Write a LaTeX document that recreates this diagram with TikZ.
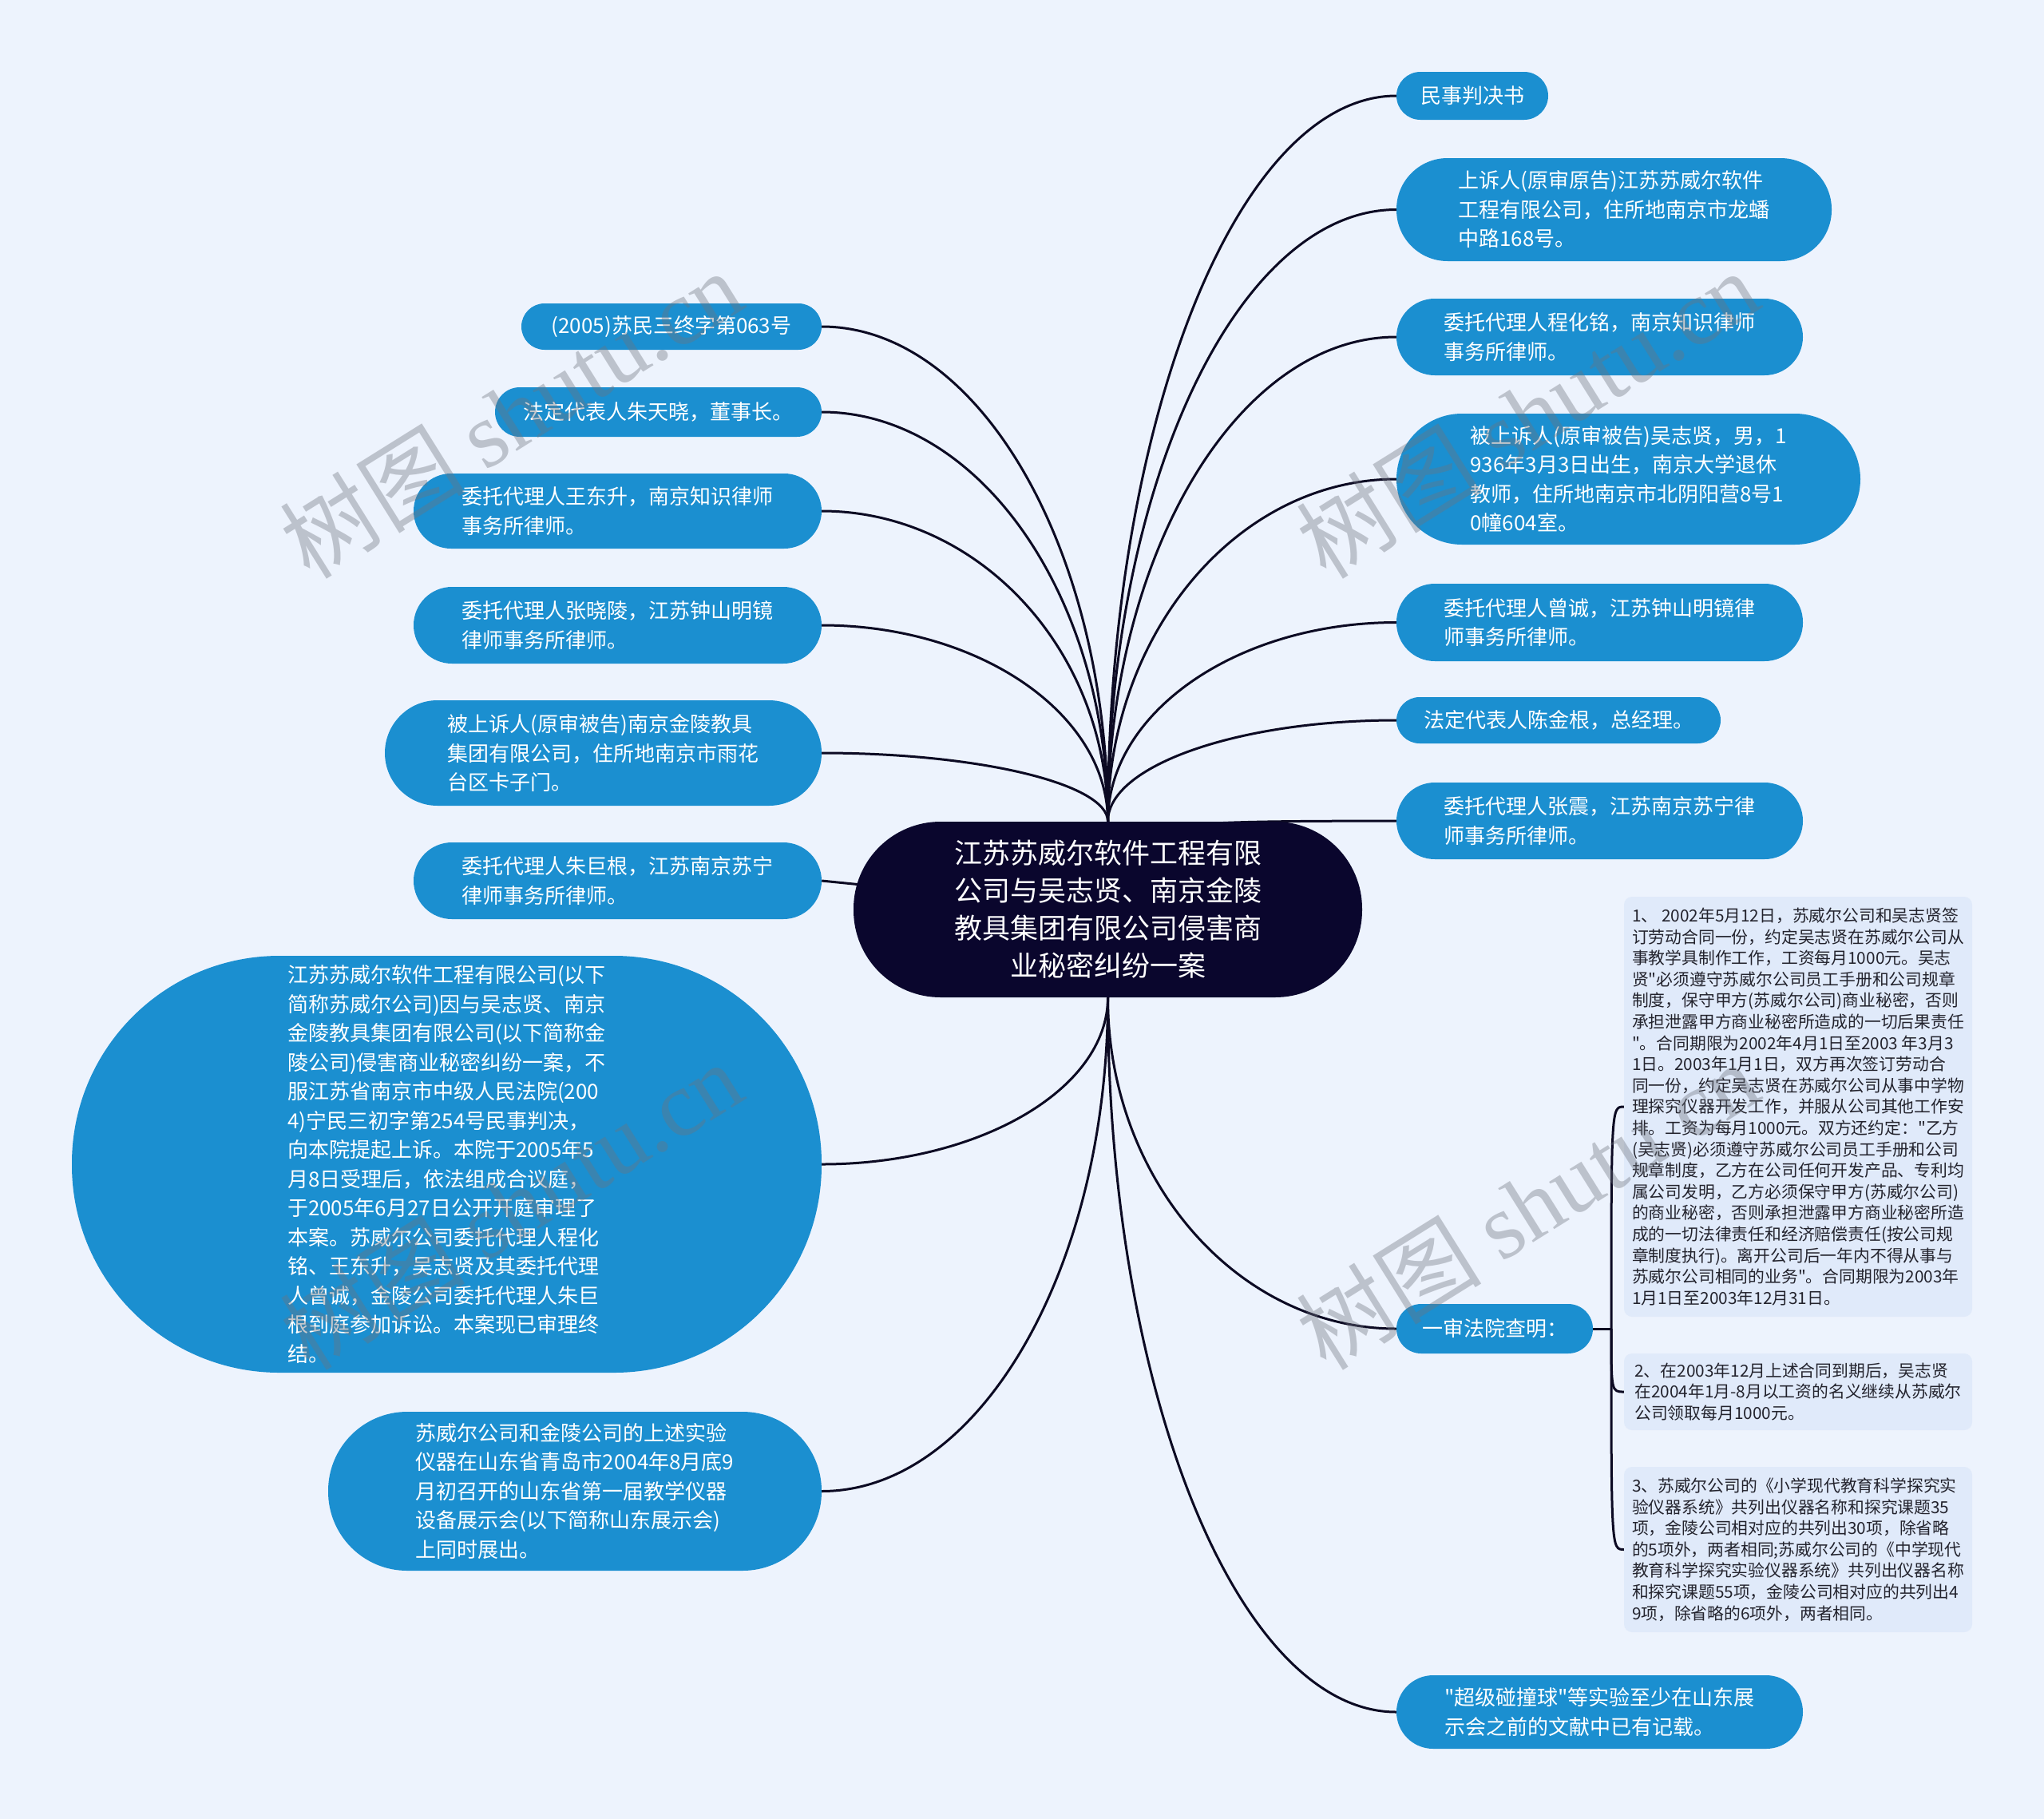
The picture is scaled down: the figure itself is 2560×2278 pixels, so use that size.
\documentclass[tikz,border=0pt]{standalone}
\usepackage{fontspec}
\newfontfamily\cjk{Noto Sans CJK SC}
\newfontfamily\wmlatin{Liberation Serif}
\usetikzlibrary{calc}
\definecolor{bgcol}{RGB}{237,243,253}
\definecolor{nodeblue}{RGB}{27,143,208}
\definecolor{centercol}{RGB}{10,6,45}
\definecolor{linecol}{RGB}{12,10,35}
\definecolor{detailcol}{RGB}{224,234,250}
\definecolor{detailtext}{RGB}{35,35,45}
\definecolor{wmcol}{RGB}{110,115,125}
\pgfdeclarelayer{back}\pgfdeclarelayer{lines}\pgfdeclarelayer{front}
\pgfsetlayers{back,lines,main,front}
\newcommand\mylink[2]{\draw[conn] (#1) .. controls ($(#1)!0.55!(#1 |- #2)$) and ($(#2)!0.55!(#1 |- #2)$) .. (#2);}
\begin{document}
\begin{tikzpicture}[x=1pt,y=-1pt,
 pill/.style={fill=nodeblue, text=white, font=\cjk\fontsize{26}{36.5}\selectfont, align=left, inner sep=0pt},
 hub/.style={fill=centercol, text=white, font=\cjk\fontsize{35}{47}\selectfont, align=center, inner sep=0pt, minimum width=637pt, minimum height=220pt, rounded corners=109pt},
 detail/.style={fill=detailcol, text=detailtext, font=\cjk\fontsize{20.8}{26.6}\selectfont, align=left, inner sep=0pt, minimum width=436pt, rounded corners=10pt},
 conn/.style={draw=linecol, line width=3pt},
 watermark/.style={text=wmcol, text opacity=0.38, rotate=32, font=\cjk\fontsize{116}{116}\selectfont, inner sep=0pt}
]
\useasboundingbox (0,0) rectangle (2560,2278);
\begin{pgfonlayer}{back}
\fill[bgcol] (0,0) rectangle (2560,2278);
\end{pgfonlayer}

% centre
\node[hub] (c) at (1387.5,1139) {江苏苏威尔软件工程有限\\公司与吴志贤、南京金陵\\教具集团有限公司侵害商\\业秘密纠纷一案};

% right side
\node[pill, minimum width=190pt, minimum height=60pt, rounded corners=30pt] (r1) at (1844,120) {民事判决书};
\node[pill, minimum width=545pt, minimum height=129pt, rounded corners=64pt] (r2) at (2021.5,262.5) {上诉人(原审原告)江苏苏威尔软件\\工程有限公司，住所地南京市龙蟠\\中路168号。};
\node[pill, minimum width=509pt, minimum height=96pt, rounded corners=48pt] (r3) at (2003.5,422) {委托代理人程化铭，南京知识律师\\事务所律师。};
\node[pill, minimum width=581pt, minimum height=164pt, rounded corners=82pt] (r4) at (2039.5,600) {被上诉人(原审被告)吴志贤，男，1\\936年3月3日出生，南京大学退休\\教师，住所地南京市北阴阳营8号1\\0幢604室。};
\node[pill, minimum width=509pt, minimum height=97pt, rounded corners=48pt] (r5) at (2003.5,779.5) {委托代理人曾诚，江苏钟山明镜律\\师事务所律师。};
\node[pill, minimum width=406pt, minimum height=58pt, rounded corners=29pt] (r6) at (1952,902) {法定代表人陈金根，总经理。};
\node[pill, minimum width=509pt, minimum height=96pt, rounded corners=48pt] (r7) at (2003.5,1028) {委托代理人张震，江苏南京苏宁律\\师事务所律师。};
\node[pill, minimum width=246pt, minimum height=62pt, rounded corners=31pt] (r8) at (1872,1664) {一审法院查明：};
\node[pill, minimum width=509pt, minimum height=92pt, rounded corners=46pt] (r9) at (2003.5,2144) {"超级碰撞球"等实验至少在山东展\\示会之前的文献中已有记载。};

% detail boxes
\node[detail, minimum height=526pt] (d1) at (2252,1386) {1、 2002年5月12日，苏威尔公司和吴志贤签\\订劳动合同一份，约定吴志贤在苏威尔公司从\\事教学具制作工作，工资每月1000元。吴志\\贤"必须遵守苏威尔公司员工手册和公司规章\\制度，保守甲方(苏威尔公司)商业秘密，否则\\承担泄露甲方商业秘密所造成的一切后果责任\\"。合同期限为2002年4月1日至2003 年3月3\\1日。2003年1月1日，双方再次签订劳动合\\同一份，约定吴志贤在苏威尔公司从事中学物\\理探究仪器开发工作，并服从公司其他工作安\\排。工资为每月1000元。双方还约定："乙方\\(吴志贤)必须遵守苏威尔公司员工手册和公司\\规章制度，乙方在公司任何开发产品、专利均\\属公司发明，乙方必须保守甲方(苏威尔公司)\\的商业秘密，否则承担泄露甲方商业秘密所造\\成的一切法律责任和经济赔偿责任(按公司规\\章制度执行)。离开公司后一年内不得从事与\\苏威尔公司相同的业务"。合同期限为2003年\\1月1日至2003年12月31日。};
\node[detail, minimum height=96pt] (d2) at (2252,1743) {2、在2003年12月上述合同到期后，吴志贤\\在2004年1月-8月以工资的名义继续从苏威尔\\公司领取每月1000元。};
\node[detail, minimum height=207pt] (d3) at (2252,1940.5) {3、苏威尔公司的《小学现代教育科学探究实\\验仪器系统》共列出仪器名称和探究课题35\\项，金陵公司相对应的共列出30项，除省略\\的5项外，两者相同;苏威尔公司的《中学现代\\教育科学探究实验仪器系统》共列出仪器名称\\和探究课题55项，金陵公司相对应的共列出4\\9项，除省略的6项外，两者相同。};

% left side
\node[pill, minimum width=376pt, minimum height=58pt, rounded corners=29pt] (l1) at (841,409) {(2005)苏民三终字第063号};
\node[pill, minimum width=409pt, minimum height=62pt, rounded corners=31pt] (l2) at (824.5,516) {法定代表人朱天晓，董事长。};
\node[pill, minimum width=511pt, minimum height=94pt, rounded corners=47pt] (l3) at (773.5,640) {委托代理人王东升，南京知识律师\\事务所律师。};
\node[pill, minimum width=511pt, minimum height=96pt, rounded corners=48pt] (l4) at (773.5,783) {委托代理人张晓陵，江苏钟山明镜\\律师事务所律师。};
\node[pill, minimum width=547pt, minimum height=132pt, rounded corners=66pt] (l5) at (755.5,943) {被上诉人(原审被告)南京金陵教具\\集团有限公司，住所地南京市雨花\\台区卡子门。};
\node[pill, minimum width=511pt, minimum height=96pt, rounded corners=48pt] (l6) at (773.5,1103) {委托代理人朱巨根，江苏南京苏宁\\律师事务所律师。};
\node[pill, minimum width=939pt, minimum height=522pt, rounded corners=260pt] (l7) at (559.5,1458) {江苏苏威尔软件工程有限公司(以下\\简称苏威尔公司)因与吴志贤、南京\\金陵教具集团有限公司(以下简称金\\陵公司)侵害商业秘密纠纷一案，不\\服江苏省南京市中级人民法院(200\\4)宁民三初字第254号民事判决，\\向本院提起上诉。本院于2005年5\\月8日受理后，依法组成合议庭，\\于2005年6月27日公开开庭审理了\\本案。苏威尔公司委托代理人程化\\铭、王东升，吴志贤及其委托代理\\人曾诚，金陵公司委托代理人朱巨\\根到庭参加诉讼。本案现已审理终\\结。};
\node[pill, minimum width=618pt, minimum height=199pt, rounded corners=99pt] (l8) at (720,1867.5) {苏威尔公司和金陵公司的上述实验\\仪器在山东省青岛市2004年8月底9\\月初召开的山东省第一届教学仪器\\设备展示会(以下简称山东展示会)\\上同时展出。};

\coordinate (br) at (2018,1664);

\begin{pgfonlayer}{lines}
\mylink{c.north}{r1.west}
\mylink{c.north}{r2.west}
\mylink{c.north}{r3.west}
\mylink{c.north}{r4.west}
\mylink{c.north}{r5.west}
\mylink{c.north}{r6.west}
\draw[conn] (c.center) .. controls (c.north) .. (r7.west);
\mylink{c.south}{r8.west}
\mylink{c.south}{r9.west}
\mylink{c.north}{l1.east}
\mylink{c.north}{l2.east}
\mylink{c.north}{l3.east}
\mylink{c.north}{l4.east}
\mylink{c.north}{l5.east}
\draw[conn] (c.center) -- (l6.east);
\mylink{c.south}{l7.east}
\mylink{c.south}{l8.east}
\draw[conn] (r8.east) -- (br);
\draw[conn] (br) .. controls (br |- d1.west) .. (d1.west);
\draw[conn] (br) .. controls (br |- d2.west) .. (d2.west);
\draw[conn] (br) .. controls (br |- d3.west) .. (d3.west);
\end{pgfonlayer}

\begin{pgfonlayer}{front}
\node[watermark] (w1) at (640,518) {树图 {\wmlatin shutu.cn}};
\node[watermark] (w2) at (1913,518) {树图 {\wmlatin shutu.cn}};
\node[watermark] (w3) at (640,1509) {树图 {\wmlatin shutu.cn}};
\node[watermark] (w4) at (1913,1509) {树图 {\wmlatin shutu.cn}};
\end{pgfonlayer}
\end{tikzpicture}
\end{document}
